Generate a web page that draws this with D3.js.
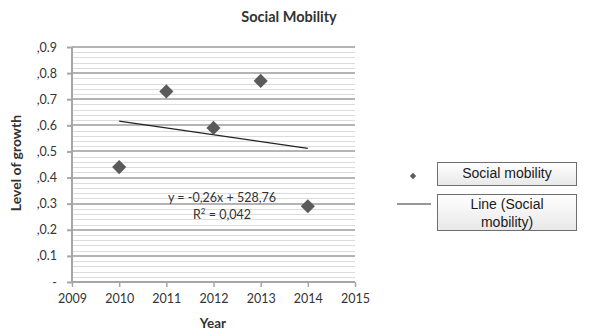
<!DOCTYPE html>
<html>
<head>
	<meta charset="utf-8">
	<title>Social Mobility</title>
	<script type="text/javascript" src="https://d3js.org/d3.v7.min.js"></script>
	<style>
		body { margin: 0; background: #fff; }
		text { font-family: Lato, "Open Sans", sans-serif; fill: #333; }
		.legend text { font-family: "Liberation Sans", Arial, sans-serif; fill: #1a1a1a; }
	</style>
</head>
<body>

	<script type="text/javascript">
		// chart values
		var years = [2010, 2011, 2012, 2013, 2014];
		var growth = [0.44, 0.73, 0.59, 0.77, 0.29];
		var xTicks = [2009, 2010, 2011, 2012, 2013, 2014, 2015];
		var yTicks = [0, 0.1, 0.2, 0.3, 0.4, 0.5, 0.6, 0.7, 0.8, 0.9];
		var yTickLabels = ["-", ",0.1", ",0.2", ",0.3", ",0.4", ",0.5", ",0.6", ",0.7", ",0.8", ",0.9"];
		var eqText = "y = -0,26x + 528,76";
		var legendLabels = [["Social mobility"], ["Line (Social", "mobility)"]];

		var W = 593, H = 336;
		var svg = d3.select("body").append("svg").attr("width", W).attr("height", H);

		var x = d3.scaleLinear().domain([2009, 2015]).range([72, 355]);
		var y = d3.scaleLinear().domain([0, 0.9]).range([282, 47]);

		// minor gridlines every 0.02
		var minor = d3.range(0, 0.9001, 0.02).filter(function (v) {
			return Math.abs(Math.round(v * 10) - v * 10) > 0.001;
		});
		svg.append("g").selectAll("line").data(minor).enter().append("line")
			.attr("x1", x(2009)).attr("x2", x(2015))
			.attr("y1", function (d) { return Math.round(y(d)) + 0.5; })
			.attr("y2", function (d) { return Math.round(y(d)) + 0.5; })
			.attr("stroke", "#dcdcdc").attr("stroke-width", 1);

		// major gridlines
		svg.append("g").selectAll("line").data(yTicks.slice(1)).enter().append("line")
			.attr("x1", x(2009)).attr("x2", x(2015))
			.attr("y1", function (d) { return Math.round(y(d)); })
			.attr("y2", function (d) { return Math.round(y(d)); })
			.attr("stroke", "#b4b4b4").attr("stroke-width", 2);

		// y axis
		var yAxis = d3.axisLeft(y).tickValues(yTicks).tickSize(5).tickPadding(10)
			.tickFormat(function (d, i) { return yTickLabels[i]; });
		var gy = svg.append("g").attr("transform", "translate(" + x(2009) + ",0)").call(yAxis);
		gy.select(".domain").attr("stroke", "#a6a6a6").attr("stroke-width", 2).attr("d", "M0," + y(0) + "V" + y(0.9));
		gy.selectAll(".tick line").attr("stroke", "#a6a6a6").attr("stroke-width", 2);
		gy.selectAll(".tick text").style("font-size", "12.5px").style("font-family", "Lato, sans-serif").attr("fill", "#333");

		// x axis
		var xAxis = d3.axisBottom(x).tickValues(xTicks).tickSize(5).tickPadding(7).tickFormat(d3.format("d"));
		var gx = svg.append("g").attr("transform", "translate(0," + y(0) + ")").call(xAxis);
		gx.select(".domain").attr("stroke", "#a6a6a6").attr("stroke-width", 2).attr("d", "M" + x(2009) + ",0H" + x(2015));
		gx.selectAll(".tick line").attr("stroke", "#a6a6a6").attr("stroke-width", 1.5);
		gx.selectAll(".tick text").style("font-size", "12.5px").style("font-family", "Lato, sans-serif").attr("fill", "#333");

		// linear trend by least squares
		var mx = d3.mean(years), my = d3.mean(growth);
		var sxy = d3.sum(years, function (v, i) { return (v - mx) * (growth[i] - my); });
		var sxx = d3.sum(years, function (v) { return (v - mx) * (v - mx); });
		var slope = sxy / sxx, icpt = my - slope * mx;
		var sst = d3.sum(growth, function (v) { return (v - my) * (v - my); });
		var r2 = slope * slope * sxx / sst;
		var x0 = years[0], x1 = years[years.length - 1];

		svg.append("line")
			.attr("x1", x(x0)).attr("y1", y(icpt + slope * x0))
			.attr("x2", x(x1)).attr("y2", y(icpt + slope * x1))
			.attr("stroke", "#222").attr("stroke-width", 1.2);

		// diamonds
		var diamond = d3.symbol().type(d3.symbolSquare).size(100);
		svg.append("g").selectAll("path").data(years).enter().append("path")
			.attr("d", diamond)
			.attr("transform", function (d, i) { return "translate(" + x(d) + "," + y(growth[i]) + ") rotate(45)"; })
			.attr("fill", "#5a5a5a");

		// equation label
		svg.append("text").attr("x", 222).attr("y", 202).attr("text-anchor", "middle")
			.style("font-size", "12.5px").text(eqText);
		var r2t = svg.append("text").attr("x", 222).attr("y", 219).attr("text-anchor", "middle")
			.style("font-size", "12.5px");
		r2t.append("tspan").text("R");
		r2t.append("tspan").attr("dy", -5).style("font-size", "8px").text("2");
		r2t.append("tspan").attr("dy", 5).text(" = " + d3.format(".3f")(r2).replace(".", ","));

		// titles
		svg.append("text").attr("x", 289).attr("y", 22).attr("text-anchor", "middle")
			.style("font-size", "14.5px").style("font-weight", "bold").attr("fill", "#111").text("Social Mobility");
		svg.append("text").attr("x", 213).attr("y", 328).attr("text-anchor", "middle")
			.style("font-size", "13.5px").style("font-weight", "bold").attr("fill", "#111").text("Year");
		svg.append("text").attr("transform", "translate(21,163) rotate(-90)").attr("text-anchor", "middle")
			.style("font-size", "14px").style("font-weight", "bold").attr("fill", "#111").text("Level of growth");

		// legend
		var defs = svg.append("defs");
		var grad = defs.append("linearGradient").attr("id", "lg").attr("x1", 0).attr("y1", 0).attr("x2", 0).attr("y2", 1);
		grad.append("stop").attr("offset", "0%").attr("stop-color", "#ffffff");
		grad.append("stop").attr("offset", "100%").attr("stop-color", "#e8e8e8");

		var boxes = [{ y: 162, h: 23, t: 177.5 }, { y: 194, h: 36, t: 208.5 }];
		var lg = svg.append("g").attr("class", "legend");
		lg.selectAll("rect").data(boxes).enter().append("rect")
			.attr("x", 437.5).attr("y", function (d) { return d.y + 0.5; })
			.attr("width", 139).attr("height", function (d) { return d.h; })
			.attr("fill", "url(#lg)").attr("stroke", "#6e6e6e").attr("stroke-width", 1);
		legendLabels.forEach(function (lines, i) {
			var b = boxes[i];
			var t = lg.append("text").attr("x", 507).attr("text-anchor", "middle").style("font-size", "14px");
			lines.forEach(function (s, j) {
				t.append("tspan").attr("x", 507).attr("y", b.t + j * 18).text(s);
			});
		});
		lg.append("path").attr("d", d3.symbol().type(d3.symbolSquare).size(20))
			.attr("transform", "translate(413,176) rotate(45)").attr("fill", "#5a5a5a");
		lg.append("line").attr("x1", 397).attr("x2", 431).attr("y1", 204).attr("y2", 204)
			.attr("stroke", "#333").attr("stroke-width", 1.2);
	</script>
</body>
</html>
